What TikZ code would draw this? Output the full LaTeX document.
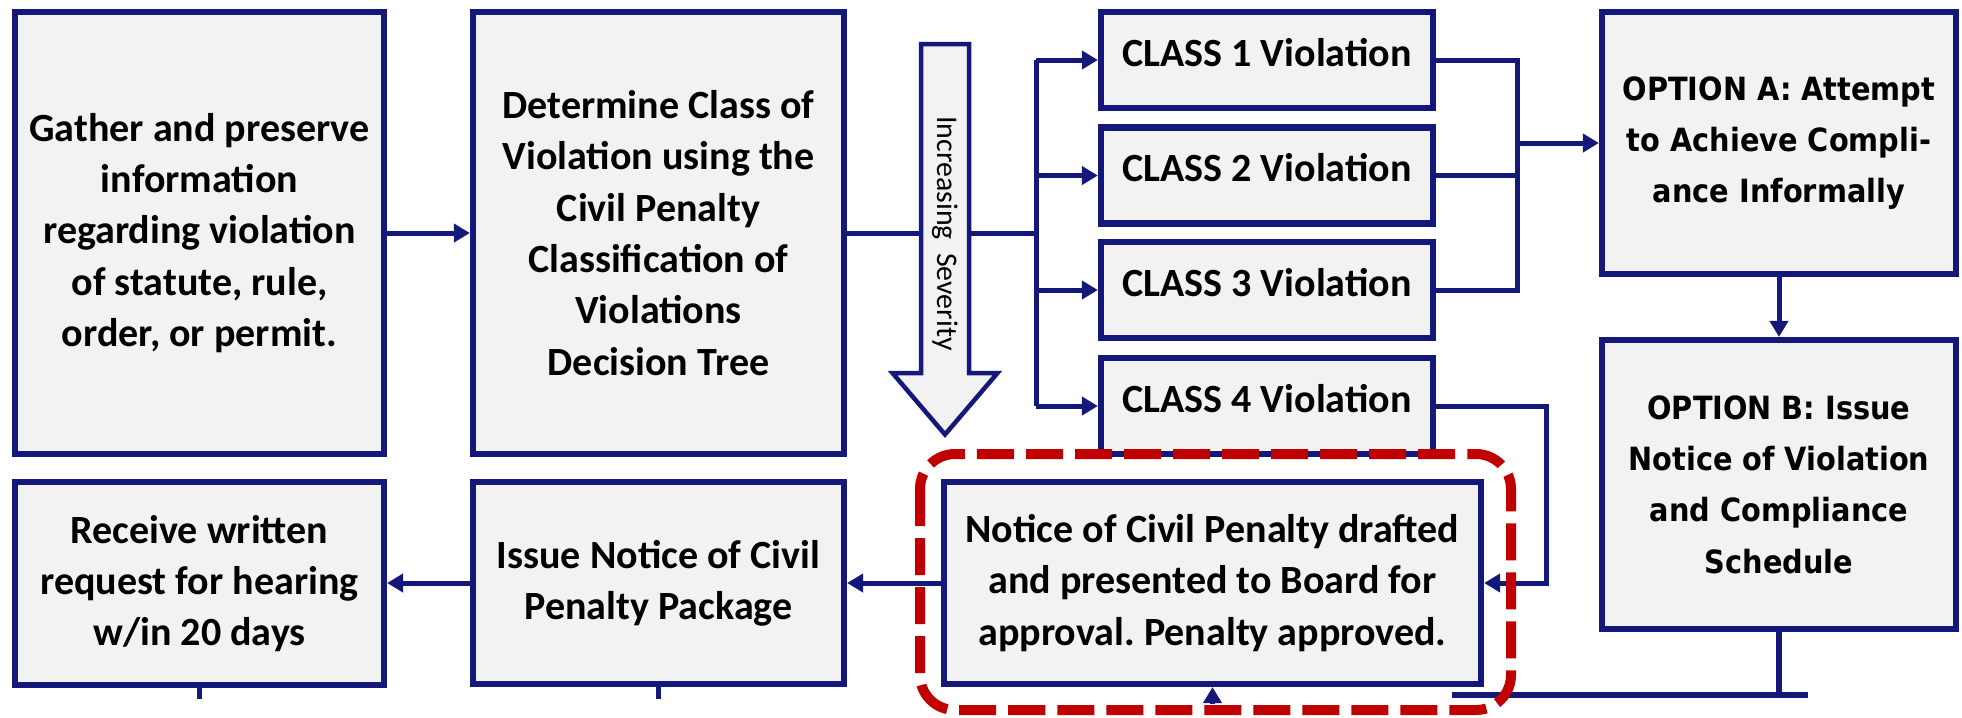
\documentclass[tikz,border=0pt]{standalone}
\usepackage{fontspec}
\setmainfont{Carlito}
\newfontfamily\optfont{DejaVu Sans Condensed}
\usetikzlibrary{arrows.meta}
\definecolor{navy}{RGB}{20,24,122}
\definecolor{boxfill}{RGB}{242,242,242}
\definecolor{hlred}{RGB}{192,0,0}
\newcommand{\calfont}{\fontsize{11.38pt}{14.6pt}\selectfont\bfseries\frenchspacing}
\newcommand{\optfnt}{\optfont\fontsize{9.1pt}{14.6pt}\selectfont\bfseries}
\newcommand{\sevfont}{\fontsize{8.5pt}{10pt}\selectfont}
\frenchspacing
\begin{document}
\begin{tikzpicture}[x=0.01cm,y=-0.01cm,
  box/.style={draw=navy, line width=0.065cm, fill=boxfill, inner sep=0pt, align=center, font=\calfont},
  optbox/.style={box, font=\optfnt},
  classbox/.style={box, minimum width=3.315cm, minimum height=0.955cm, text height=0.30cm, text depth=0.18cm},
  conn/.style={draw=navy, line width=0.05cm},
  arr/.style={conn, -{Triangle[length=0.16cm,width=0.18cm]}},
  sevarrow/.style={draw=navy, line width=0.045cm, fill=boxfill},
  hilite/.style={draw=hlred, line width=0.1cm, dash pattern=on 0.37cm off 0.12cm, rounded corners=0.35cm}
]
\useasboundingbox (0,0) rectangle (1962,717);

% boxes
\node[box, minimum width=3.685cm, minimum height=4.415cm] (gather) at (199.5,233)
  {Gather and preserve\\information\\regarding violation\\of statute, rule,\\order, or permit.};
\node[box, minimum width=3.705cm, minimum height=4.415cm] (determine) at (658.5,233)
  {Determine Class of\\Violation using the\\Civil Penalty\\Classification of\\Violations\\Decision Tree};
\node[classbox] (c1) at (1267,60) {CLASS 1 Violation};
\node[classbox] (c2) at (1267,175.5) {CLASS 2 Violation};
\node[classbox] (c3) at (1267,290) {CLASS 3 Violation};
\node[classbox] (c4) at (1267,406) {CLASS 4 Violation};
\node[optbox, minimum width=3.535cm, minimum height=2.615cm] (optA) at (1779,143)
  {OPTION A: Attempt\\to Achieve Compli-\\ance Informally};
\node[optbox, minimum width=3.535cm, minimum height=2.885cm] (optB) at (1779,484.5)
  {OPTION B: Issue\\Notice of Violation\\and Compliance\\Schedule};
\node[box, minimum width=3.685cm, minimum height=2.025cm] (receive) at (199.5,583.5)
  {Receive written\\request for hearing\\w/in 20 days};
\node[box, minimum width=3.705cm, minimum height=2.015cm] (issue) at (658.5,583)
  {Issue Notice of Civil\\Penalty Package};
\node[box, minimum width=5.365cm, minimum height=2.015cm] (penalty) at (1212.5,583)
  {Notice of Civil Penalty drafted\\and presented to Board for\\approval. Penalty approved.};

% helper coordinates
\coordinate (trunk) at (1036,233);
\coordinate (merge) at (1517,143);
\coordinate (c4r) at (1546,406);
\coordinate (bl) at (1452,695);
\coordinate (br) at (1808,695);
\coordinate (s1) at (199.5,699);
\coordinate (s2) at (658.5,699);
\coordinate (s3) at (1212.5,704);

% connectors
\draw[arr] (gather) -- (determine);
\draw[conn] (determine.east) -- (trunk);
\draw[conn] (trunk |- c1.west) -- (trunk |- c4.west);
\foreach \c in {c1,c2,c3,c4} \draw[arr] (trunk |- \c.west) -- (\c.west);
\draw[conn] (c1.east) -| (merge |- c3.east) -- (c3.east);
\draw[conn] (c2.east) -- (merge |- c2.east);
\draw[arr] (merge) -- (optA.west);
\draw[arr] (c4.east) -- (c4r) |- (penalty.east);
\draw[arr] (optA) -- (optB);
\draw[conn, line width=0.06cm] (optB.south) -- (optB.south |- bl);
\draw[conn, line width=0.06cm] (bl) -- (br);
\draw[arr] (penalty.west) -- (issue.east);
\draw[arr] (issue.west) -- (receive.east |- issue.west);
\draw[conn] (receive.south) -- (s1);
\draw[conn] (issue.south) -- (s2);
\draw[arr] (s3) -- (penalty.south);

% severity arrow
\draw[sevarrow] (921,44) -- (969,44) -- (969,373) -- (997.5,373) -- (945,434.5)
  -- (892.5,373) -- (921,373) -- cycle;
\node[rotate=-90, font=\sevfont, inner sep=0pt] (sevtext) at (945,233.5) {Increasing~~Severity};

% highlight
\draw[hilite] (920,454) rectangle (1511,710);
\end{tikzpicture}
\end{document}
